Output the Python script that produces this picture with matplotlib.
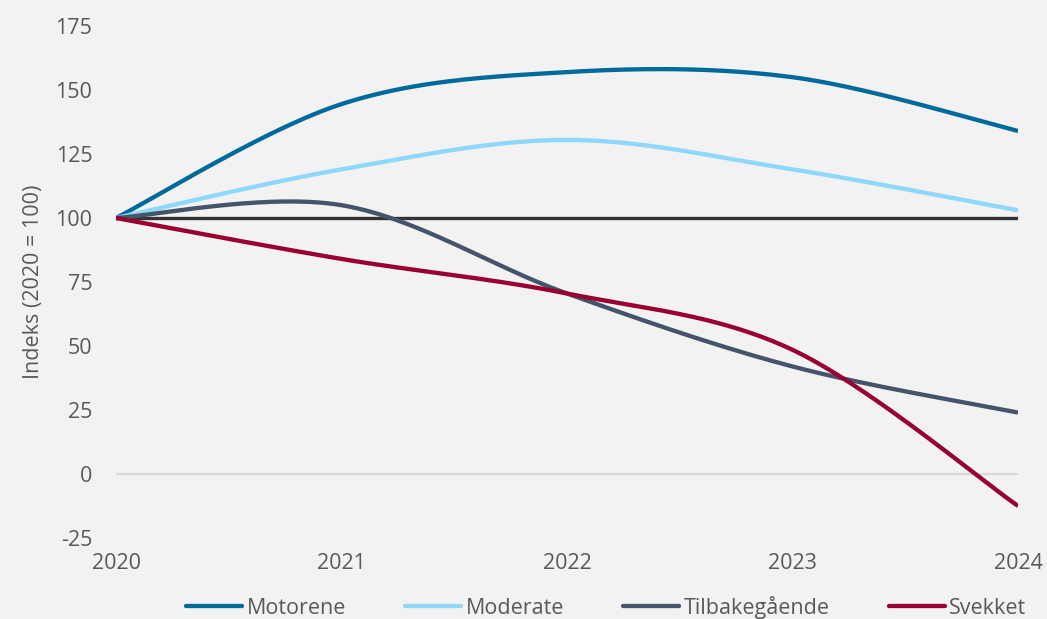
import numpy as np
import matplotlib
matplotlib.use("Agg")
import matplotlib.pyplot as plt

years = [2020, 2021, 2022, 2023, 2024]
motorene = [100, 144.5, 157, 155, 134]
moderate = [100, 119, 130.5, 119, 103]
tilbake = [100, 105, 70.5, 42, 24]
svekket = [100, 84, 70.5, 48.5, -12.5]
baseline = [100, 100, 100, 100, 100]
series_names = ["Motorene", "Moderate", "Tilbakegående", "Svekket"]
colors = ["#006a9b", "#8dd8fb", "#44546a", "#99002f"]
yticks = [-25, 0, 25, 50, 75, 100, 125, 150, 175]
ytick_labels = ["-25", "0", "25", "50", "75", "100", "125", "150", "175"]

plt.rcParams['font.family'] = ['Open Sans', 'DejaVu Sans']


def smooth(xs, ys, n=60):
    xs = np.asarray(xs, float)
    ys = np.asarray(ys, float)
    px = np.concatenate([[xs[0]], xs, [xs[-1]]])
    py = np.concatenate([[ys[0]], ys, [ys[-1]]])
    outx, outy = [], []
    t = np.linspace(0, 1, n)
    for i in range(1, len(px) - 2):
        p0 = np.array([px[i], py[i]])
        p3 = np.array([px[i + 1], py[i + 1]])
        c1 = p0 + (np.array([px[i + 1], py[i + 1]]) - np.array([px[i - 1], py[i - 1]])) / 6
        c2 = p3 - (np.array([px[i + 2], py[i + 2]]) - np.array([px[i], py[i]])) / 6
        b = ((1 - t) ** 3)[:, None] * p0 + (3 * (1 - t) ** 2 * t)[:, None] * c1 \
            + (3 * (1 - t) * t ** 2)[:, None] * c2 + (t ** 3)[:, None] * p3
        outx.extend(b[:, 0]); outy.extend(b[:, 1])
    return np.array(outx), np.array(outy)


fig = plt.figure(figsize=(10.47, 6.19), dpi=100, facecolor="#f2f2f2")
ax = fig.add_axes([0.1108, 0.1309, 0.8615, 0.8271], facecolor="#f2f2f2")

ax.axhline(0, color="#d9d9d9", lw=1.5, zorder=1)
ax.plot(years, baseline, color="#333333", lw=2.4, zorder=2)
handles = []
for name, vals, c in zip(series_names, [motorene, moderate, tilbake, svekket], colors):
    sx, sy = smooth(years, vals)
    h, = ax.plot(sx, sy, color=c, lw=3.1, label=name, solid_capstyle="butt", zorder=3)
    handles.append(h)

ax.set_xlim(2020, 2024)
ax.set_ylim(-25, 175)
ax.set_yticks(yticks)
ax.set_yticklabels(ytick_labels)
ax.set_xticks(years)
ax.set_xticklabels([str(y) for y in years])
for s in ax.spines.values():
    s.set_visible(False)
ax.tick_params(axis="both", length=0, labelsize=15.5, colors="#595959")
ax.tick_params(axis="y", pad=17)
ax.tick_params(axis="x", pad=11)
ax.set_ylabel("Indeks (2020 = 100)", fontsize=15.5, color="#595959")
ax.yaxis.set_label_coords(-0.0798, 0.5)

leg = fig.legend(handles=handles, loc="center", bbox_to_anchor=(0.579, 0.019),
                 ncol=4, frameon=False, fontsize=15.5, handlelength=2.6,
                 columnspacing=2.75, handletextpad=0.2)
for t in leg.get_texts():
    t.set_color("#595959")
for l in leg.get_lines():
    l.set_solid_capstyle("round")

fig.savefig("out.png", dpi=100, facecolor="#f2f2f2")
